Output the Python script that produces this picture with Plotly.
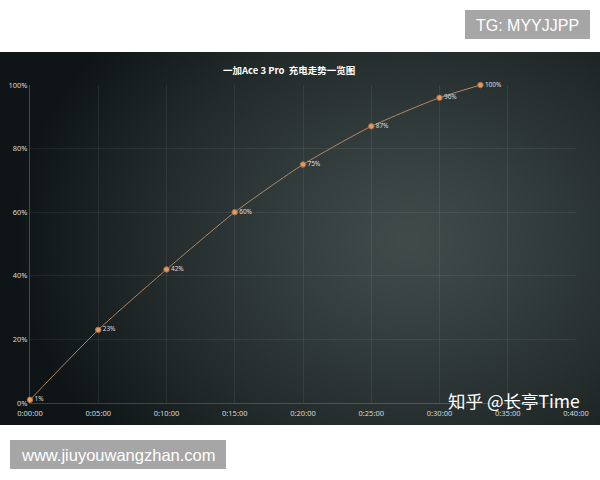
import base64, struct, zlib
import numpy as np
import plotly.graph_objects as go

# ---- data ----
minutes = [0, 5, 10, 15, 20, 25, 30, 33]
percent = [1, 23, 42, 60, 75, 87, 96, 100]
labels = [f"{p}%" for p in percent]
x_tickvals = [0, 5, 10, 15, 20, 25, 30, 35, 40]
x_ticktext = ["0:00:00", "0:05:00", "0:10:00", "0:15:00", "0:20:00",
              "0:25:00", "0:30:00", "0:35:00", "0:40:00"]
y_tickvals = [0, 20, 40, 60, 80, 100]
y_ticktext = ["0%", "20%", "40%", "60%", "80%", "100%"]
title = "一加Ace 3 Pro  充电走势一览图"

W, H = 600, 480
L, R, T, B = 30, 24, 85, 77
PW, PH = W - L - R, H - T - B


def px(x):
    return (x - L) / PW


def py(y):
    return (H - B - y) / PH


# ---- background gradient PNG (dark radial) ----
def make_png(arr):
    h, w, _ = arr.shape
    raw = b"".join(b"\x00" + arr[i].tobytes() for i in range(h))
    def chunk(t, d):
        c = struct.pack(">I", len(d)) + t + d
        return c + struct.pack(">I", zlib.crc32(t + d) & 0xffffffff)
    png = b"\x89PNG\r\n\x1a\n"
    png += chunk(b"IHDR", struct.pack(">IIBBBBB", w, h, 8, 2, 0, 0, 0))
    png += chunk(b"IDAT", zlib.compress(raw, 9))
    png += chunk(b"IEND", b"")
    return "data:image/png;base64," + base64.b64encode(png).decode()


gw, gh = 300, 187
xx, yy = np.meshgrid(np.linspace(0, 600, gw), np.linspace(52, 425, gh))
d = np.sqrt(((xx - 410) / 400) ** 2 + ((yy - 240) / 320) ** 2)
t = np.clip(d, 0, 1) ** 1.2
c0 = np.array([64, 75, 74], float)
c1 = np.array([15, 21, 22], float)
img = (c0[None, None, :] * (1 - t[..., None]) + c1[None, None, :] * t[..., None])
img = np.clip(img, 0, 255).astype(np.uint8)
bg_src = make_png(img)

fig = go.Figure()
fig.add_trace(go.Scatter(
    x=minutes, y=percent, mode="lines+markers+text",
    text=labels, textposition="middle right",
    textfont=dict(family="Noto Sans", size=6.5, color="#dcdcdc"),
    line=dict(color="rgba(200,150,110,0.85)", width=1, shape="spline", smoothing=0.6),
    marker=dict(size=5.5, color="#e39a62", line=dict(color="#a86a40", width=1)),
    cliponaxis=False, hoverinfo="skip", showlegend=False,
))

fig.update_layout(
    width=W, height=H,
    margin=dict(l=L, r=R, t=T, b=B, autoexpand=False),
    paper_bgcolor="white", plot_bgcolor="rgba(0,0,0,0)",
    images=[dict(source=bg_src, xref="paper", yref="paper",
                 x=px(0), y=py(52), sizex=px(600) - px(0), sizey=py(52) - py(425),
                 sizing="stretch", layer="below", xanchor="left", yanchor="top")],
    xaxis=dict(range=[0, 40], tickvals=x_tickvals, ticktext=x_ticktext,
               showgrid=True, gridcolor="rgba(255,255,255,0.07)", gridwidth=1,
               zeroline=False, showline=True, linecolor="rgba(255,255,255,0.18)",
               ticks="outside", ticklen=3, tickcolor="rgba(0,0,0,0)",
               tickfont=dict(family="Noto Sans", size=7.5, color="#d8d8d8"),
               automargin=False, fixedrange=True),
    yaxis=dict(range=[0, 100], tickvals=y_tickvals, ticktext=y_ticktext,
               showgrid=True, gridcolor="rgba(255,255,255,0.07)", gridwidth=1,
               zeroline=False, showline=True, linecolor="rgba(255,255,255,0.22)",
               tickfont=dict(family="Noto Sans", size=7.5, color="#d8d8d8"),
               automargin=False, fixedrange=True),
    annotations=[
        dict(text=f"<b>{title}</b>", xref="paper", yref="paper",
             x=px(289), y=py(70), xanchor="center", yanchor="middle", showarrow=False,
             font=dict(family="Noto Sans CJK SC", size=9.5, color="white")),
        dict(text="知乎 @长亭Time", xref="paper", yref="paper",
             x=px(446), y=py(400), xanchor="left", yanchor="middle", showarrow=False,
             font=dict(family="Noto Sans CJK SC", size=17.5, color="white")),
        dict(text="TG: MYYJJPP", xref="paper", yref="paper",
             x=px(527), y=py(25), xanchor="center", yanchor="middle", showarrow=False,
             font=dict(family="Liberation Sans", size=16, color="white")),
        dict(text="www.jiuyouwangzhan.com", xref="paper", yref="paper",
             x=px(118), y=py(455), xanchor="center", yanchor="middle", showarrow=False,
             font=dict(family="Liberation Sans", size=16.5, color="white")),
    ],
    shapes=[
        dict(type="rect", xref="paper", yref="paper", x0=px(465), x1=px(590),
             y0=py(10), y1=py(39), fillcolor="#a6a6a6", line=dict(width=0), layer="below"),
        dict(type="rect", xref="paper", yref="paper", x0=px(10), x1=px(226),
             y0=py(440), y1=py(469), fillcolor="#a6a6a6", line=dict(width=0), layer="below"),
    ],
)

fig.write_html("out.html", config={"displayModeBar": False},
               post_script="document.body.style.margin='0';document.body.style.overflow='hidden';")
